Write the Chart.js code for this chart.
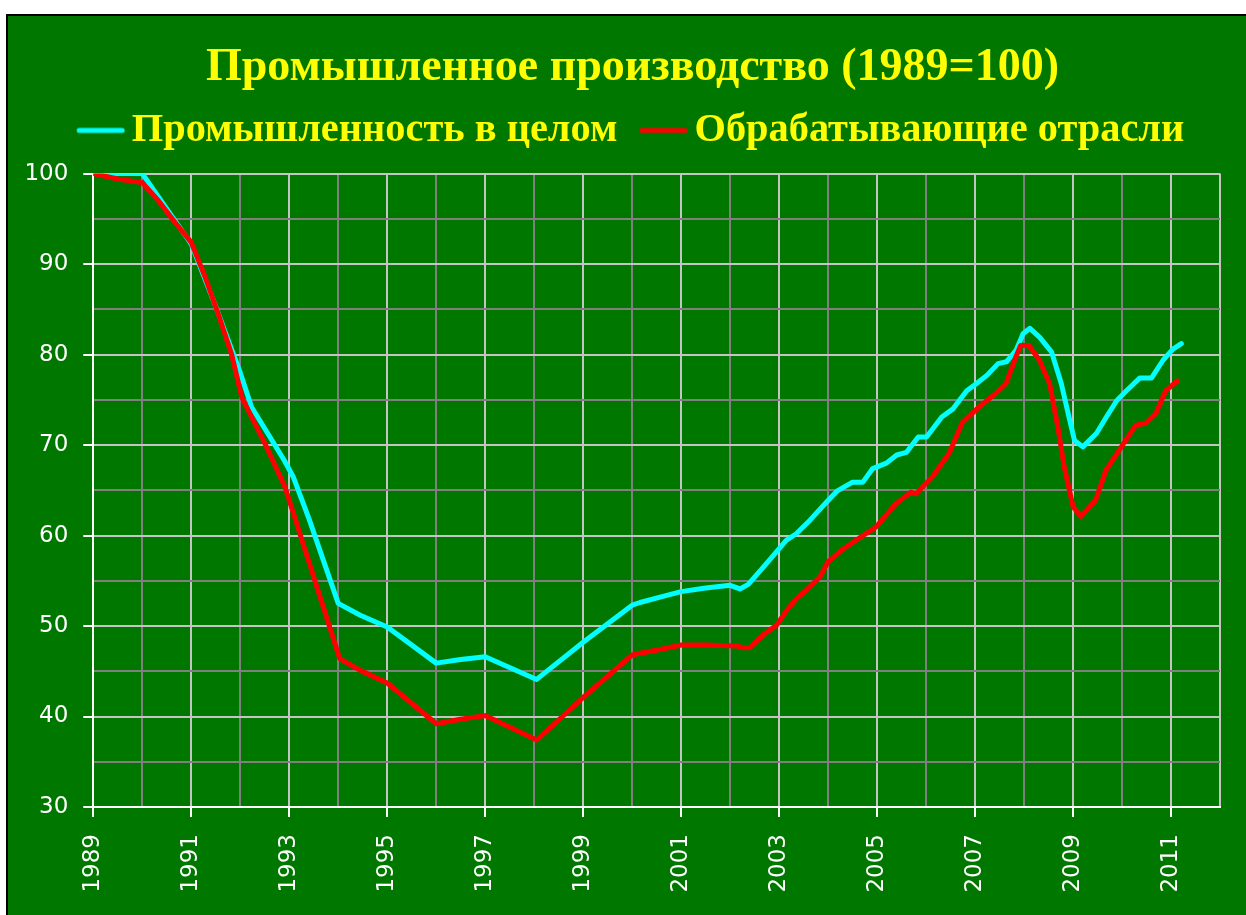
<!DOCTYPE html>
<html lang="ru">
<head>
<meta charset="utf-8">
<title>Промышленное производство</title>
<script src="https://cdn.jsdelivr.net/npm/chart.js@4"></script>
<style>
  body { margin: 0; background: #ffffff; }
  #frame {
    position: absolute;
    left: 6px;
    top: 14px;
    width: 1240px;
    height: 901px;
    border-left: 2px solid #000000;
    border-top: 2px solid #000000;
    background: #007800;
  }
  #chart { display: block; }
</style>
</head>
<body>
<div id="frame">
  <canvas id="chart" width="1238" height="899"></canvas>
</div>
<script>
// Series: industry as a whole (cyan) and manufacturing (red), 1989 = 100
const totalYears = [
  1989, 1990, 1991, 1991.5, 1992, 1992.23, 1992.9, 1993.08, 1993.4, 1994,
  1994.45, 1995, 1996, 1996.5, 1997, 1998.05, 1999, 2000, 2000.16, 2000.57,
  2001, 2001.5, 2002, 2002.2, 2002.37, 2002.74, 2003.15, 2003.35, 2003.63, 2003.97,
  2004.18, 2004.5, 2004.71, 2004.91, 2005.19, 2005.4, 2005.6, 2005.84, 2006.01, 2006.32,
  2006.55, 2006.83, 2007.03, 2007.24, 2007.47, 2007.64, 2007.84, 2007.98, 2008.12, 2008.32,
  2008.56, 2008.76, 2008.9, 2009.03, 2009.2, 2009.48, 2009.68, 2009.89, 2010.09, 2010.36,
  2010.6, 2010.84, 2011.04, 2011.21
];
const totalValues = [
  100, 100, 92.2, 85.3, 78.0, 74.2, 68.3, 66.5, 61.9, 52.5,
  51.2, 49.9, 45.9, 46.3, 46.6, 44.1, 48.2, 52.3, 52.6, 53.2,
  53.8, 54.2, 54.5, 54.1, 54.6, 56.9, 59.5, 60.2, 61.7, 63.7,
  64.9, 65.9, 65.9, 67.4, 68.0, 68.9, 69.2, 70.9, 70.9, 73.1,
  74.0, 76.0, 76.8, 77.7, 79.0, 79.2, 80.5, 82.3, 82.9, 81.9,
  80.3, 76.8, 73.5, 70.5, 69.8, 71.3, 73.1, 74.9, 76.0, 77.4,
  77.4, 79.4, 80.6, 81.2
];
const manufYears = [
  1989, 1989.5, 1990, 1990.33, 1990.67, 1991, 1991.28, 1991.55, 1991.82, 1992.03,
  1992.5, 1992.91, 1993.0, 1994.03, 1994.45, 1995, 1996, 1996.5, 1997, 1998.05,
  1999, 2000, 2000.16, 2000.57, 2001, 2001.5, 2002.13, 2002.27, 2002.4, 2002.67,
  2002.95, 2003.15, 2003.35, 2003.56, 2003.83, 2004.0, 2004.28, 2004.63, 2004.97, 2005.38,
  2005.69, 2005.79, 2006.13, 2006.47, 2006.74, 2007.08, 2007.42, 2007.63, 2007.83, 2007.93,
  2008.1, 2008.31, 2008.52, 2008.69, 2008.82, 2009.0, 2009.16, 2009.46, 2009.67, 2009.94,
  2010.28, 2010.48, 2010.69, 2010.89, 2011.13
];
const manufValues = [
  100, 99.4, 99.0, 97.0, 94.6, 92.4, 88.6, 84.5, 80.1, 75.3,
  70.2, 65.4, 63.9, 46.4, 45.1, 43.7, 39.2, 39.7, 40.1, 37.4,
  42.1, 46.8, 47.0, 47.4, 47.9, 47.9, 47.8, 47.6, 47.6, 49.0,
  50.1, 51.7, 53.0, 54.0, 55.4, 57.1, 58.4, 59.7, 60.9, 63.5,
  64.8, 64.6, 66.5, 69.1, 72.5, 74.2, 75.7, 76.8, 79.7, 81.0,
  81.0, 79.4, 76.8, 72.0, 67.6, 63.2, 62.1, 63.9, 67.2, 69.4,
  72.2, 72.4, 73.5, 76.0, 77.1
];

const seriesNames = ['Промышленность в целом', 'Обрабатывающие отрасли'];
const seriesColors = ['#00ffff', '#ff0000'];

// Axis ranges
const yearMin = 1989;
const yearMax = 2012;
const valueMin = 30;
const valueMax = 100;

const LIGHT_GRID = '#c4c4c4';
const DARK_GRID = '#808080';

function toPoints(xs, ys) {
  return xs.map((x, i) => ({ x: x, y: ys[i] }));
}

// Legend sample line, drawn into a small canvas used as point style
function legendLine(color) {
  const c = document.createElement('canvas');
  c.width = 58;
  c.height = 8;
  const g = c.getContext('2d');
  g.strokeStyle = color;
  g.lineWidth = 5;
  g.lineCap = 'round';
  g.beginPath();
  g.moveTo(12, 4);
  g.lineTo(55, 4);
  g.stroke();
  return c;
}

const ctx = document.getElementById('chart').getContext('2d');
new Chart(ctx, {
  type: 'line',
  data: {
    datasets: [{
      label: seriesNames[0],
      data: toPoints(totalYears, totalValues),
      borderColor: seriesColors[0],
      backgroundColor: seriesColors[0],
      borderWidth: 5,
      pointRadius: 0,
      pointStyle: legendLine(seriesColors[0]),
      tension: 0,
      borderJoinStyle: 'round',
      borderCapStyle: 'round',
      order: 2
    }, {
      label: seriesNames[1],
      data: toPoints(manufYears, manufValues),
      borderColor: seriesColors[1],
      backgroundColor: seriesColors[1],
      borderWidth: 5,
      pointRadius: 0,
      pointStyle: legendLine(seriesColors[1]),
      tension: 0,
      borderJoinStyle: 'round',
      borderCapStyle: 'round',
      order: 1
    }]
  },
  options: {
    responsive: false,
    animation: false,
    layout: { padding: { left: 15, right: 4, top: 0, bottom: 0 } },
    plugins: {
      tooltip: { enabled: false },
      title: {
        display: true,
        text: 'Промышленное производство (1989=100)',
        color: '#ffff00',
        font: { family: '"Liberation Serif", "Times New Roman", serif', size: 46, weight: 'bold', lineHeight: 0.7 },
        padding: { top: 36, bottom: 0 }
      },
      // empty spacer between the legend and the plot
      subtitle: {
        display: true,
        text: '',
        weight: 500,
        font: { size: 13, lineHeight: 1 },
        padding: 0
      },
      legend: {
        display: true,
        position: 'top',
        labels: {
          color: '#ffff00',
          font: { family: '"Liberation Serif", "Times New Roman", serif', size: 40.4, weight: 'bold' },
          usePointStyle: true,
          pointStyleWidth: 30.8,
          padding: 26,
          sort: (a, b) => a.datasetIndex - b.datasetIndex
        }
      }
    },
    scales: {
      x: {
        type: 'linear',
        min: yearMin,
        max: yearMax,
        afterFit: function(scale) {
          scale.height = 108;
          scale.paddingLeft = 0;
          scale.paddingRight = 0;
        },
        border: { display: true, color: '#ffffff', width: 2 },
        grid: {
          lineWidth: 2,
          tickLength: 10,
          color: function(c) {
            const v = c.tick ? c.tick.value : 0;
            return (v % 2 === 1 || v === yearMax) ? LIGHT_GRID : DARK_GRID;
          },
          tickColor: function(c) {
            const v = c.tick ? c.tick.value : 0;
            return v % 2 === 1 ? '#ffffff' : 'rgba(0,0,0,0)';
          },
          tickWidth: 2
        },
        ticks: {
          stepSize: 1,
          autoSkip: false,
          minRotation: 90,
          maxRotation: 90,
          padding: 17,
          color: '#ffffff',
          font: { family: '"DejaVu Sans", Verdana, sans-serif', size: 23 },
          callback: function(v) { return v % 2 === 1 ? String(v) : ''; }
        }
      },
      y: {
        type: 'linear',
        min: valueMin,
        max: valueMax,
        afterFit: function(scale) { scale.width = 70.3; },
        border: { display: true, color: '#ffffff', width: 2 },
        grid: {
          lineWidth: 2,
          tickLength: 10,
          color: function(c) {
            const v = c.tick ? c.tick.value : 0;
            return v % 10 === 0 ? LIGHT_GRID : DARK_GRID;
          },
          tickColor: function(c) {
            const v = c.tick ? c.tick.value : 0;
            return v % 10 === 0 ? '#ffffff' : 'rgba(0,0,0,0)';
          },
          tickWidth: 2
        },
        ticks: {
          stepSize: 5,
          autoSkip: false,
          padding: 15,
          color: '#ffffff',
          font: { family: '"DejaVu Sans", Verdana, sans-serif', size: 23 },
          callback: function(v) { return v % 10 === 0 ? String(v) : ''; }
        }
      },
      // empty right margin so the title and legend centre like the original
      yRight: {
        type: 'linear',
        position: 'right',
        display: true,
        afterFit: function(scale) { scale.width = 22; },
        border: { display: false },
        grid: { display: false },
        ticks: { display: false }
      }
    }
  }
});
</script>
</body>
</html>
